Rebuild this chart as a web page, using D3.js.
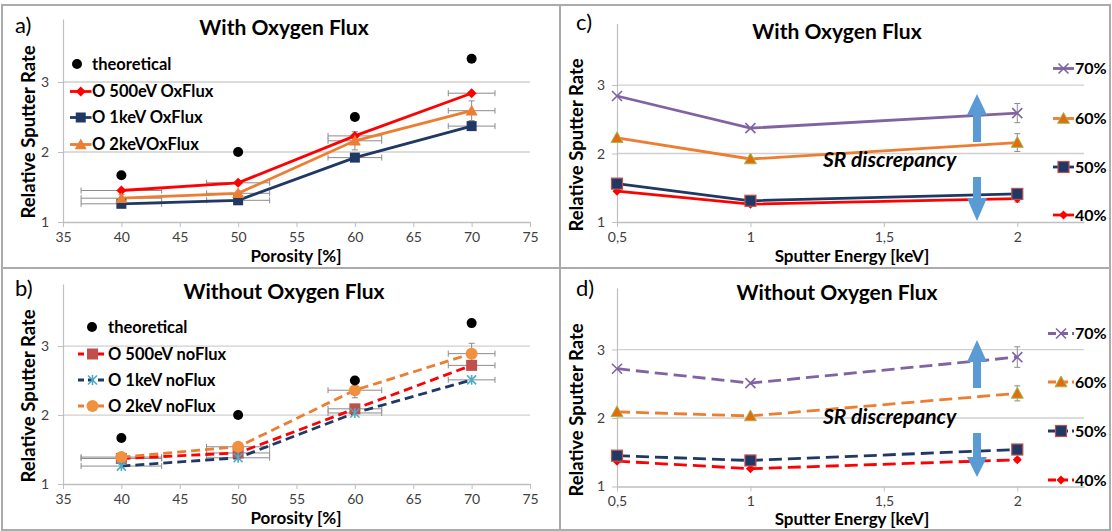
<!DOCTYPE html>
<html><head><meta charset="utf-8">
<script src="https://cdn.jsdelivr.net/npm/d3@7"></script>
<style>
html,body{margin:0;padding:0;background:#fff;}
svg{display:block;font-family:Lato,"Open Sans",sans-serif;}
</style></head>
<body>
<svg id="chart" width="1112" height="531"></svg>
<script>
// ---------------- DATA ----------------
const porosity = [40, 50, 60, 70];
const porosityErr = [3.45, 2.7, 2.3, 2.0];
const theoretical = [1.667, 2.0, 2.5, 3.333];

// with oxygen flux (by sputter energy)
const ox500 = [1.45, 1.56, 2.23, 2.84];
const ox1k  = [1.26, 1.31, 1.92, 2.37];
const ox2k  = [1.34, 1.41, 2.16, 2.59];
const ox2kErr = [0.05, 0.03, 0.13, 0.14];

// without oxygen flux (by sputter energy)
const no500 = [1.37, 1.45, 2.09, 2.72];
const no1k  = [1.26, 1.38, 2.03, 2.51];
const no2k  = [1.39, 1.54, 2.36, 2.89];
const no2kErr = [0.03, 0.03, 0.11, 0.15];

const energies = [0.5, 1, 2];
const porosityTicks = [35, 40, 45, 50, 55, 60, 65, 70, 75];
const energyTicks = [0.5, 1, 1.5, 2];
const energyTickLabels = ["0,5", "1", "1,5", "2"];
const rateTicks = [1, 2, 3];
const porosityLabels = ["40%", "50%", "60%", "70%"];

// ---------------- DRAWING ----------------
const svg = d3.select("#chart");
const GRID = "#d0d0d0", AXIS = "#bfbfbf", TICKTXT = "#404040", ERR = "#8c8c8c";

function marker(g, type, x, y, st) {
  const s = st.size;
  if (type === "circle") {
    g.append("circle").attr("cx", x).attr("cy", y).attr("r", s / 2)
      .attr("fill", st.fill).attr("stroke", st.stroke || "none").attr("stroke-width", st.sw || 0);
  } else if (type === "square") {
    g.append("rect").attr("x", x - s / 2).attr("y", y - s / 2).attr("width", s).attr("height", s)
      .attr("fill", st.fill).attr("stroke", st.stroke || "none").attr("stroke-width", st.sw || 0);
  } else if (type === "diamond") {
    const h = s / 2;
    g.append("path").attr("d", `M${x},${y - h}L${x + h},${y}L${x},${y + h}L${x - h},${y}Z`)
      .attr("fill", st.fill).attr("stroke", st.stroke || "none").attr("stroke-width", st.sw || 0);
  } else if (type === "triangle") {
    const h = s / 2;
    g.append("path").attr("d", `M${x},${y - h}L${x + h},${y + h * 0.8}L${x - h},${y + h * 0.8}Z`)
      .attr("fill", st.fill).attr("stroke", st.stroke || "none").attr("stroke-width", st.sw || 0);
  } else if (type === "x" || type === "asterisk") {
    const h = s / 2;
    let d = `M${x - h},${y - h}L${x + h},${y + h}M${x - h},${y + h}L${x + h},${y - h}`;
    if (type === "asterisk") d += `M${x},${y - h * 1.1}L${x},${y + h * 1.1}`;
    g.append("path").attr("d", d).attr("fill", "none").attr("stroke", st.fill).attr("stroke-width", st.sw || 1.5);
  }
}

function frame(p) {
  const g = svg.append("g");
  const x = d3.scaleLinear().domain(p.xDomain).range(p.xRange);
  const y = d3.scaleLinear().domain([1, 3.9]).range(p.yRange);
  g.selectAll("line.grid").data(rateTicks.filter(v => v > 1)).join("line")
    .attr("x1", p.xRange[0]).attr("x2", p.xRange[1])
    .attr("y1", d => y(d)).attr("y2", d => y(d))
    .attr("stroke", GRID).attr("stroke-width", 1.3);
  const ya = g.append("g").attr("transform", `translate(${p.xRange[0]},0)`)
    .call(d3.axisLeft(y).tickValues(rateTicks).tickSize(5).tickSizeOuter(0).tickPadding(p.yPad)
      .tickFormat(d3.format("d")));
  ya.select(".domain").attr("stroke", AXIS).attr("stroke-width", 1.2);
  ya.selectAll(".tick line").attr("stroke", AXIS);
  ya.selectAll(".tick text").attr("fill", TICKTXT).style("font-size", "14px").style("font-family", "Lato");
  const xa = g.append("g").attr("transform", `translate(0,${p.yRange[0]})`)
    .call(d3.axisBottom(x).tickValues(p.xTicks).tickSize(5).tickSizeOuter(0).tickPadding(5)
      .tickFormat((d, i) => p.xLabels[i]));
  xa.select(".domain").attr("stroke", AXIS).attr("stroke-width", 1.3);
  xa.selectAll(".tick line").attr("stroke", AXIS);
  xa.selectAll(".tick text").attr("fill", TICKTXT).style("font-size", "14px").style("font-family", "Lato");
  g.append("text").attr("x", p.tag[0]).attr("y", p.tag[1]).text(p.tagText)
    .style("font-size", "22px").attr("fill", "#000");
  g.append("text").attr("x", p.title[0]).attr("y", p.title[1]).attr("text-anchor", "middle")
    .text(p.titleText).style("font-size", "21px").style("font-weight", "bold");
  g.append("text").attr("x", p.xl[0]).attr("y", p.xl[1]).attr("text-anchor", "middle")
    .text(p.xlText).style("font-size", "17px").style("font-weight", "bold");
  g.append("text").attr("transform", `translate(${p.yl[0]},${p.yl[1]}) rotate(-90)`).attr("text-anchor", "middle")
    .text("Relative Sputter Rate").style("font-size", "18.5px").style("font-weight", "bold");
  return { g, x, y };
}

function errV(g, x, y, xv, yv, e) {
  g.append("path").attr("d",
    `M${x(xv)},${y(yv - e)}V${y(yv + e)}M${x(xv) - 3},${y(yv - e)}h6M${x(xv) - 3},${y(yv + e)}h6`)
    .attr("stroke", ERR).attr("stroke-width", 1).attr("fill", "none");
}
function errH(g, x, y, xv, yv, e) {
  g.append("path").attr("d",
    `M${x(xv - e)},${y(yv)}H${x(xv + e)}M${x(xv - e)},${y(yv) - 3}v6M${x(xv + e)},${y(yv) - 3}v6`)
    .attr("stroke", ERR).attr("stroke-width", 1).attr("fill", "none");
}

function porosityPanel(p) {
  const { g, x, y } = frame(p);
  p.series.forEach(s => {
    porosity.forEach((px, i) => errH(g, x, y, px, s.values[i], porosityErr[i]));
  });
  p.series.forEach(s => {
    if (s.err) porosity.forEach((px, i) => errV(g, x, y, px, s.values[i], s.err[i]));
  });
  const line = d3.line().x((d, i) => x(porosity[i])).y(d => y(d));
  p.series.forEach(s => {
    g.append("path").datum(s.values).attr("d", line).attr("fill", "none")
      .attr("stroke", s.color).attr("stroke-width", 2.8)
      .attr("stroke-dasharray", s.dash || null);
  });
  p.series.forEach(s => {
    s.values.forEach((v, i) => marker(g, s.marker, x(porosity[i]), y(v), s.ms));
  });
  theoretical.forEach((v, i) => marker(g, "circle", x(porosity[i]), y(v), { size: 10, fill: "#000" }));
  const L = p.legend;
  marker(g, "circle", L.theo[0], L.theo[1], { size: 10, fill: "#000" });
  g.append("text").attr("x", L.tx).attr("y", L.theo[1]).attr("dy", "0.35em").text("theoretical")
    .style("font-size", "16.5px").style("font-weight", "bold");
  p.series.forEach((s, k) => {
    const ly = L.rows[k];
    g.append("line").attr("x1", L.l0).attr("x2", L.l1).attr("y1", ly).attr("y2", ly)
      .attr("stroke", s.color).attr("stroke-width", 2.8).attr("stroke-dasharray", s.dash ? "6,4" : null);
    marker(g, s.marker, (L.l0 + L.l1) / 2, ly, s.ms);
    g.append("text").attr("x", L.tx).attr("y", ly).attr("dy", "0.35em").text(s.name)
      .style("font-size", "16.5px").style("font-weight", "bold");
  });
}

function energyPanel(p) {
  const { g, x, y } = frame(p);
  const line = d3.line().x((d, i) => x(energies[i])).y(d => y(d));
  p.series.forEach(s => {
    if (s.err) errV(g, x, y, energies[2], s.values[2], s.err);
  });
  p.series.forEach(s => {
    g.append("path").datum(s.values).attr("d", line).attr("fill", "none")
      .attr("stroke", s.color).attr("stroke-width", 2.8).attr("stroke-dasharray", s.dash || null);
  });
  p.series.forEach(s => s.values.forEach((v, i) => marker(g, s.marker, x(energies[i]), y(v), s.ms)));
  const A = p.arrows, ax = A.x, sw = 4, hw = 10;
  const c = "#5b9bd5";
  g.append("path").attr("d",
    `M${ax},${A.up[0]}L${ax + hw},${A.up[1]}H${ax + sw}V${A.up[2]}H${ax - sw}V${A.up[1]}H${ax - hw}Z`).attr("fill", c);
  g.append("path").attr("d",
    `M${ax},${A.down[0]}L${ax + hw},${A.down[1]}H${ax + sw}V${A.down[2]}H${ax - sw}V${A.down[1]}H${ax - hw}Z`).attr("fill", c);
  g.append("text").attr("x", A.tx).attr("y", A.ty).text("SR discrepancy")
    .style("font-size", "21px").style("font-weight", "bold").style("font-style", "italic");
  const L = p.legend;
  p.series.slice().reverse().forEach((s, k) => {
    const ly = L.rows[k];
    g.append("line").attr("x1", L.l0).attr("x2", L.l1).attr("y1", ly).attr("y2", ly)
      .attr("stroke", s.color).attr("stroke-width", 2.8).attr("stroke-dasharray", s.dash ? "8,4" : null);
    marker(g, s.marker, L.m, ly, s.ms);
    g.append("text").attr("x", L.tx).attr("y", ly).attr("dy", "0.36em").text(s.name)
      .style("font-size", "16px").style("font-weight", "bold");
  });
}

const RED = "#ff0000", NAVY = "#1f3864", ORANGE = "#ed7d31", PURPLE = "#8064a2";

porosityPanel({
  xDomain: [35, 75], xRange: [63, 530], yRange: [222, 19], yPad: 9,
  xTicks: porosityTicks, xLabels: porosityTicks.map(String),
  tag: [15, 33], tagText: "a)", title: [284, 35], titleText: "With Oxygen Flux",
  xl: [296, 262], xlText: "Porosity [%]", yl: [35, 132],
  series: [
    { name: "O 500eV OxFlux", values: ox500, color: RED, marker: "diamond", ms: { size: 10, fill: RED } },
    { name: "O 1keV OxFlux", values: ox1k, color: NAVY, marker: "square", ms: { size: 10, fill: NAVY } },
    { name: "O 2keVOxFlux", values: ox2k, color: ORANGE, marker: "triangle", ms: { size: 12, fill: ORANGE }, err: ox2kErr }
  ],
  legend: { theo: [77, 64], tx: 92, rows: [91.5, 117.5, 144.5], l0: 70, l1: 91.5 }
});

porosityPanel({
  xDomain: [35, 75], xRange: [63, 530], yRange: [484, 284], yPad: 9,
  xTicks: porosityTicks, xLabels: porosityTicks.map(String),
  tag: [15, 296], tagText: "b)", title: [284, 299], titleText: "Without Oxygen Flux",
  xl: [296, 524], xlText: "Porosity [%]", yl: [35, 396],
  series: [
    { name: "O 500eV noFlux", values: no500, color: RED, dash: "9,5", marker: "square", ms: { size: 11, fill: "#c0504d" } },
    { name: "O 1keV noFlux", values: no1k, color: NAVY, dash: "9,5", marker: "asterisk", ms: { size: 9, fill: "#4bacc6", sw: 1.6 } },
    { name: "O 2keV noFlux", values: no2k, color: ORANGE, dash: "9,5", marker: "circle", ms: { size: 12, fill: "#f0913f" }, err: no2kErr }
  ],
  legend: { theo: [92, 327], tx: 108, rows: [354, 380, 406], l0: 78, l1: 107 }
});

function byPorosity(e500, e1k, e2k, errs, dash) {
  const styles = [
    { color: RED, marker: "diamond", ms: { size: 9, fill: RED } },
    { color: NAVY, marker: "square", ms: { size: 11, fill: NAVY, stroke: "#c0504d", sw: 1.2 } },
    { color: ORANGE, marker: "triangle", ms: { size: 12, fill: "#e46c0a", stroke: "#9bbb59", sw: 1 } },
    { color: PURPLE, marker: "x", ms: { size: 10, fill: PURPLE, sw: 1.6 } }
  ];
  return porosity.map((p, i) => Object.assign({
    name: porosityLabels[i], values: [e500[i], e1k[i], e2k[i]], err: errs[i], dash: dash
  }, styles[i]));
}

energyPanel({
  xDomain: [0.5, 2.25], xRange: [617, 1084], yRange: [222, 23.4], yPad: 7,
  xTicks: energyTicks, xLabels: energyTickLabels,
  tag: [576, 30], tagText: "c)", title: [837, 39], titleText: "With Oxygen Flux",
  xl: [852, 262], xlText: "Sputter Energy [keV]", yl: [583, 145],
  series: byPorosity(ox500, ox1k, ox2k, ox2kErr, null),
  arrows: { x: 977, up: [94, 115, 142], down: [221, 198, 177], tx: 823, ty: 167 },
  legend: { rows: [68.5, 118.5, 167, 215], l0: 1053, l1: 1074, m: 1063.5, tx: 1075 }
});

energyPanel({
  xDomain: [0.5, 2.25], xRange: [617, 1084], yRange: [486.5, 287.9], yPad: 7,
  xTicks: energyTicks, xLabels: energyTickLabels,
  tag: [576, 296], tagText: "d)", title: [837, 300], titleText: "Without Oxygen Flux",
  xl: [852, 525], xlText: "Sputter Energy [keV]", yl: [583, 410],
  series: byPorosity(no500, no1k, no2k, no2kErr, "13,6"),
  arrows: { x: 977, up: [340, 362, 388], down: [477, 457, 433], tx: 823, ty: 424 },
  legend: { rows: [333.5, 382, 431, 480], l0: 1048, l1: 1074, m: 1061, tx: 1075 }
});

const fr = svg.append("g").attr("fill", "none").attr("stroke", "#ababab").attr("stroke-width", 2);
fr.append("rect").attr("x", 2).attr("y", 5).attr("width", 1108).attr("height", 525);
fr.append("line").attr("x1", 560).attr("x2", 560).attr("y1", 5).attr("y2", 530);
fr.append("line").attr("x1", 2).attr("x2", 1110).attr("y1", 268).attr("y2", 268);
</script>
</body></html>
